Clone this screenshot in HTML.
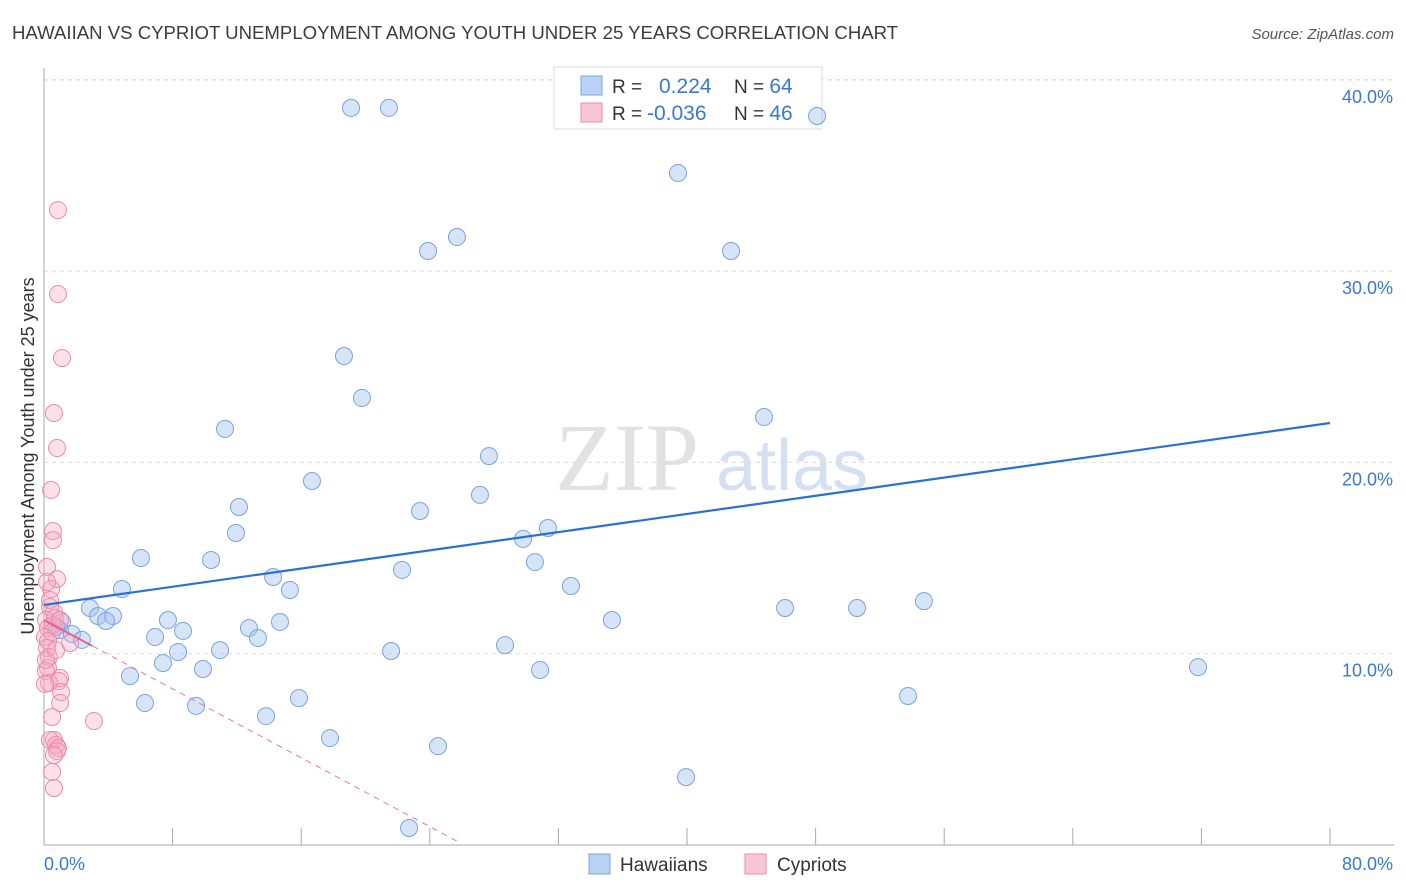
<!DOCTYPE html>
<html><head><meta charset="utf-8"><style>
body{margin:0;background:#fff;font-family:"Liberation Sans",sans-serif;}
#wrap{position:relative;width:1406px;height:892px;overflow:hidden}
</style></head><body><div id="wrap">
<svg id="svg" width="1406" height="892" xmlns="http://www.w3.org/2000/svg">
<text x="12" y="39" font-size="18.6" fill="#3c3c3c">HAWAIIAN VS CYPRIOT UNEMPLOYMENT AMONG YOUTH UNDER 25 YEARS CORRELATION CHART</text>
<text x="1394" y="39" font-size="15" fill="#555" text-anchor="end" font-style="italic">Source: ZipAtlas.com</text>
<text x="34" y="456" font-size="18" fill="#333" text-anchor="middle" transform="rotate(-90 34 456)">Unemployment Among Youth under 25 years</text>
<text x="555" y="490" font-size="96" fill="#e2e2e2" font-family="Liberation Serif,serif">ZIP</text>
<text x="716" y="490" font-size="72" fill="#d5e1f3">atlas</text>
<g id="grid"></g><g id="axes"></g>
<g>
<rect x="554" y="67" width="268" height="62" fill="#fff" stroke="#ddd"/>
<rect x="581" y="76" width="21" height="19" fill="#b9d1f3" stroke="#7aa3e0"/>
<rect x="581" y="103" width="21" height="19" fill="#f9c6d6" stroke="#ec8aab"/>
<text x="612" y="93" font-size="19" fill="#333">R = <tspan x="659" fill="#3a78d4" font-size="21">0.224</tspan><tspan x="734" fill="#333">N = </tspan><tspan fill="#3a78d4" font-size="21">64</tspan></text>
<text x="612" y="120" font-size="19" fill="#333">R = <tspan x="647" fill="#3a78d4" font-size="21">-0.036</tspan><tspan x="734" fill="#333">N = </tspan><tspan fill="#3a78d4" font-size="21">46</tspan></text>
</g>
<g id="pts"></g><g id="lines"></g>
<g>
<rect x="589" y="854" width="21" height="20" fill="#b9d1f3" stroke="#7aa3e0"/>
<text x="620" y="871" font-size="19" fill="#333">Hawaiians</text>
<rect x="745" y="854" width="21" height="20" fill="#f9c6d6" stroke="#ec8aab"/>
<text x="777" y="871" font-size="19" fill="#333">Cypriots</text>
</g>
</svg></div>
<script>
const hawX=[19.10,21.46,48.09,39.44,23.89,25.69,42.74,18.66,19.78,11.26,44.79,27.68,16.67,27.12,12.13,23.39,31.35,11.94,29.80,6.03,10.39,30.54,22.27,14.25,32.78,4.85,15.30,2.86,3.36,4.29,3.86,7.71,35.33,46.10,50.58,54.74,1.12,1.00,14.68,12.75,8.65,1.74,2.36,6.91,13.31,28.68,21.59,10.95,8.34,7.40,9.89,30.86,71.79,5.35,15.86,53.75,6.28,9.46,13.81,17.79,24.51,39.94,22.71,0.75];
const hawY=[38.53,38.53,38.11,35.13,31.05,31.78,31.05,25.56,23.37,21.75,22.37,20.33,19.03,18.30,17.67,17.46,16.57,16.31,16.00,15.00,14.90,14.79,14.38,14.01,13.54,13.38,13.33,12.39,11.97,11.97,11.71,11.76,11.76,12.39,12.39,12.75,11.66,11.24,11.66,11.34,11.19,11.03,10.72,10.87,10.82,10.45,10.14,10.19,10.09,9.51,9.20,9.15,9.30,8.83,7.68,7.79,7.42,7.27,6.74,5.59,5.17,3.55,0.89,11.40];
const cypX=[0.87,0.87,1.12,0.62,0.81,0.44,0.56,0.56,0.19,0.81,0.44,0.37,0.62,0.12,0.56,0.25,0.50,0.06,0.25,1.62,0.19,0.31,0.25,0.12,1.00,0.93,0.31,0.06,1.06,1.00,3.11,0.50,0.62,0.37,0.75,0.87,0.81,0.62,0.50,0.62,0.12,0.68,0.37,0.19,1.00,0.75];
const cypY=[33.19,28.80,25.46,22.58,20.75,18.56,16.41,15.94,14.53,13.90,13.38,12.44,12.18,11.76,11.50,11.34,11.13,10.87,10.66,10.56,10.30,9.83,9.25,9.10,8.73,8.57,8.47,8.42,8.00,7.42,6.48,6.69,5.49,5.49,5.23,5.07,4.91,4.70,3.82,2.98,9.67,11.87,12.81,13.75,11.76,10.19];
const yTicks=[10,20,30,40];
const yTickLabels=["10.0%","20.0%","30.0%","40.0%"];
const xEnds=[0,80];
const xEndLabels=["0.0%","80.0%"];
const hawTrend=[12.55,22.06];
const cypTrend=[11.76,-0.45];
const NS="http://www.w3.org/2000/svg";
const sx=v=>44+v*16.075, sy=v=>845-v*19.13;
function mk(p,t,a){const e=document.createElementNS(NS,t);for(const k in a)e.setAttribute(k,a[k]);p.appendChild(e);return e;}
const gGrid=document.getElementById('grid'),gAx=document.getElementById('axes'),gPts=document.getElementById('pts'),gLn=document.getElementById('lines');
yTicks.forEach((t,i)=>{
 const l=mk(gGrid,'line',{x1:44,x2:1394,y1:sy(t),y2:sy(t),stroke:'#dcdcdc','stroke-dasharray':'4,4'});
 
 
 const tx=mk(gGrid,'text',{x:1393,y:sy(t)+23,'font-size':18,fill:'#3a78d4','text-anchor':'end'});tx.textContent=yTickLabels[i];
 
 
});
const topGrid=mk(gGrid,'line',{x1:44,x2:1394,y1:80,y2:80,stroke:'#dcdcdc','stroke-dasharray':'4,4'});


const ya=mk(gAx,'line',{x1:44,x2:44,y1:68,y2:845,stroke:'#aaa'});


const xa=mk(gAx,'line',{x1:44,x2:1394,y1:845,y2:845,stroke:'#aaa'});


for(let i=1;i<=10;i++){const t=mk(gAx,'line',{x1:sx(i*8),x2:sx(i*8),y1:828,y2:845,stroke:'#aaa'});
 
 }
xEnds.forEach((v,i)=>{const t=mk(gAx,'text',{x:i?1393:44,y:870,'font-size':18,fill:'#3a78d4','text-anchor':i?'end':'start'});t.textContent=xEndLabels[i];
 
 });
hawX.forEach((x,i)=>{const c=mk(gPts,'circle',{cx:sx(x),cy:sy(hawY[i]),r:8.5,fill:'rgba(165,195,240,0.45)',stroke:'#7aa3e0','stroke-width':1});
 
 });
cypX.forEach((x,i)=>{const c=mk(gPts,'circle',{cx:sx(x),cy:sy(cypY[i]),r:8.5,fill:'rgba(245,170,195,0.35)',stroke:'#ec8aab','stroke-width':1});
 
 });
const hl=mk(gLn,'line',{x1:sx(0),y1:sy(hawTrend[0]),x2:sx(80),y2:sy(hawTrend[1]),stroke:'#2a6fd6','stroke-width':2.2});


const xEndC=cypTrend[0]/-cypTrend[1]*0.985;
const cl=mk(gLn,'line',{x1:sx(0),y1:sy(cypTrend[0]),x2:sx(xEndC),y2:sy(cypTrend[0]+cypTrend[1]*xEndC),stroke:'#e9799e','stroke-width':1,'stroke-dasharray':'6,5'});


const cs=mk(gLn,'line',{x1:sx(0),y1:sy(cypTrend[0]),x2:sx(3),y2:sy(cypTrend[0]+cypTrend[1]*3),stroke:'#e06590','stroke-width':2});


</script></body></html>
